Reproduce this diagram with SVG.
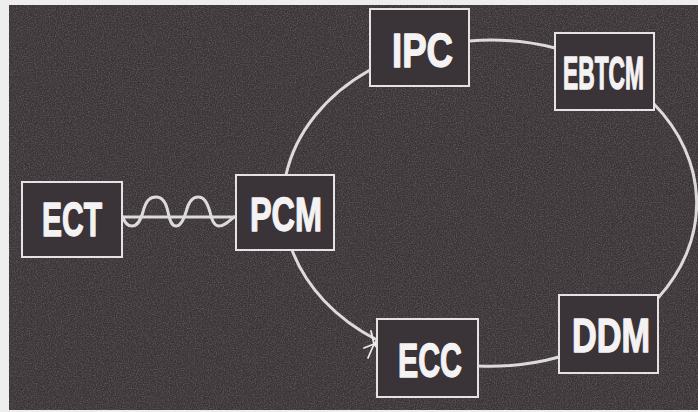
<svg xmlns="http://www.w3.org/2000/svg" width="698" height="412" viewBox="0 0 698 412">
  <defs>
    <filter id="grain" x="0" y="0" width="100%" height="100%">
      <feTurbulence type="fractalNoise" baseFrequency="0.85" numOctaves="2" seed="7" result="n"/>
      <feColorMatrix in="n" type="matrix" values="0 0 0 0 1  0 0 0 0 1  0 0 0 0 1  0 0 0 0.9 -0.35"/>
    </filter>
    <style>
      .box { fill: #3a3337; stroke: #e4e2e3; stroke-width: 2; }
      .lbl { font-family: "Liberation Sans Narrow", "Liberation Sans", Arial, sans-serif; font-weight: bold; font-size: 48px; fill: #f4f2f3; stroke: #f4f2f3; stroke-width: 1.4; stroke-linejoin: round; }
      .lbl.long { font-size: 46px; }
      .link { fill: none; stroke: #dcdadb; stroke-width: 3; stroke-linecap: round; }
      .spark { stroke: #ebe9ea; stroke-width: 1.8; stroke-linecap: round; }
    </style>
  </defs>

  <!-- paper edge and dark board -->
  <rect x="0" y="0" width="698" height="412" fill="#efeeee"/>
  <rect x="9" y="5" width="689" height="405" fill="#3c3538"/>
  <rect x="9" y="5" width="689" height="405" filter="url(#grain)" opacity="0.4"/>

  <!-- connectors -->
  <g id="connectors">
    <!-- ring of links around the loop -->
    <path class="link" d="M286,175 A207 163 0 0 1 370,70"/>
    <path class="link" d="M469,41 A207 163 0 0 1 555,48"/>
    <path class="link" d="M654,104 A207 163 0 0 1 658,298"/>
    <path class="link" d="M559,357 A207 163 0 0 1 478,366"/>
    <path class="link" d="M377,340 A207 163 0 0 1 292,250"/>
    <!-- ECT to PCM: straight line with a wave wrapped round it -->
    <path class="link" d="M122,217 L236,217"/>
    <path class="link" d="M123,217 C125,224 128,226 132,226 C137,226 140,222 143,212 C146,200 150,197 156,197 C162,197 166,202 168,212 C170,222 172,226 176,226 C180,226 183,222 186,212 C189,200 193,197 198,197 C204,197 207,202 210,212 C212,222 215,226 219,226 C224,226 228,222 234,217"/>
    <!-- spark where the link meets ECC -->
    <g class="spark">
      <line x1="374" y1="344" x2="388" y2="327"/>
      <line x1="374" y1="344" x2="368" y2="358"/>
      <line x1="374" y1="344" x2="393" y2="344"/>
      <line x1="374" y1="344" x2="371" y2="331"/>
      <line x1="374" y1="344" x2="382" y2="354"/>
      <line x1="374" y1="344" x2="364" y2="348"/>
    </g>
  </g>

  <g id="ECT">
    <rect class="box" x="22" y="182" width="100" height="75"/>
    <text class="lbl" x="42" y="236" textLength="60" lengthAdjust="spacingAndGlyphs">ECT</text>
  </g>
  <g id="PCM">
    <rect class="box" x="236" y="175" width="98" height="75"/>
    <text class="lbl" x="250" y="231" textLength="72" lengthAdjust="spacingAndGlyphs">PCM</text>
  </g>
  <g id="IPC">
    <rect class="box" x="370" y="9" width="99" height="77"/>
    <text class="lbl" x="392" y="67" textLength="61" lengthAdjust="spacingAndGlyphs">IPC</text>
  </g>
  <g id="EBTCM">
    <rect class="box" x="555" y="33" width="99" height="77"/>
    <text class="lbl long" x="563" y="89" textLength="81" lengthAdjust="spacingAndGlyphs">EBTCM</text>
  </g>
  <g id="ECC">
    <rect class="box" x="377" y="319" width="101" height="78"/>
    <text class="lbl" x="398" y="377" textLength="64" lengthAdjust="spacingAndGlyphs">ECC</text>
  </g>
  <g id="DDM">
    <rect class="box" x="559" y="295" width="99" height="78"/>
    <text class="lbl" x="572" y="352" textLength="78" lengthAdjust="spacingAndGlyphs">DDM</text>
  </g>
</svg>
